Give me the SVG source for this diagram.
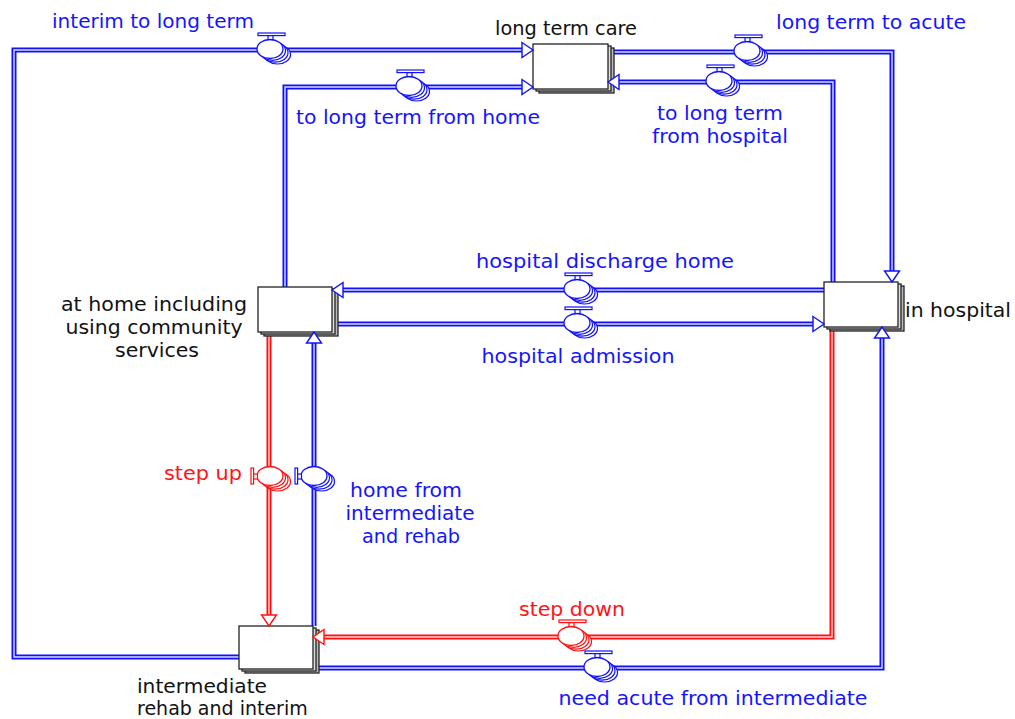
<svg xmlns="http://www.w3.org/2000/svg" width="1015" height="719" viewBox="0 0 1015 719">
<style>
text{font-family:"DejaVu Sans",Verdana,sans-serif;font-size:19px}
.b{fill:#1414ff}
.r{fill:#ff1414}
.k{fill:#111}
.po{fill:none;stroke-width:5;stroke-linejoin:miter}
.pi{fill:none;stroke-width:1.4;stroke-linejoin:miter}
.bo{stroke:#1010ff}
.bi{stroke:#d8dcff}
.ro{stroke:#ff1010}
.ri{stroke:#ffd6d6}
.st{stroke:#222;stroke-width:1.3}
</style>
<defs>
<g id="vb">
<ellipse cx="7.5" cy="5.5" rx="13" ry="9.5" fill="#fff" stroke="currentColor" stroke-width="1.2"/>
<ellipse cx="5" cy="3.7" rx="13" ry="9.5" fill="#fff" stroke="currentColor" stroke-width="1.2"/>
<ellipse cx="2.5" cy="1.8" rx="13" ry="9.5" fill="#fff" stroke="currentColor" stroke-width="1.2"/>
<ellipse cx="0" cy="0" rx="13" ry="9.5" fill="#fff" stroke="currentColor" stroke-width="1.3"/>
</g>
<g id="valveH">
<use href="#vb"/>
<rect x="-2" y="-13.5" width="5" height="4" fill="#fff" stroke="currentColor" stroke-width="1.2"/>
<rect x="-12" y="-16" width="27" height="2.6" fill="#fff" stroke="currentColor" stroke-width="1.2"/>
</g>
<g id="valveV">
<use href="#vb"/>
<rect x="-16.5" y="-2" width="4" height="5" fill="#fff" stroke="currentColor" stroke-width="1.2"/>
<rect x="-19" y="-8" width="2.6" height="16" fill="#fff" stroke="currentColor" stroke-width="1.2"/>
</g>
<path id="arr" d="M0,0 L-11,-7.5 L-11,7.5 Z" fill="#fff" stroke="currentColor" stroke-width="1.4"/>
</defs>

<g id="connectors">
<path class="po bo" d="M239,657 H14 V50 H522"/>
<path class="pi bi" d="M239,657 H14 V50 H522"/>
<path class="po bo" d="M285,287 V87 H522"/>
<path class="pi bi" d="M285,287 V87 H522"/>
<path class="po bo" d="M608,52 H892 V271"/>
<path class="pi bi" d="M608,52 H892 V271"/>
<path class="po bo" d="M833,282 V82 H619"/>
<path class="pi bi" d="M833,282 V82 H619"/>
<path class="po bo" d="M824,290 H343"/>
<path class="pi bi" d="M824,290 H343"/>
<path class="po bo" d="M332,324 H813"/>
<path class="pi bi" d="M332,324 H813"/>
<path class="po ro" d="M269,332 V615"/>
<path class="pi ri" d="M269,332 V615"/>
<path class="po bo" d="M314,626 V343"/>
<path class="pi bi" d="M314,626 V343"/>
<path class="po ro" d="M832,327 V637 H324"/>
<path class="pi ri" d="M832,327 V637 H324"/>
<path class="po bo" d="M313,668 H882 V338"/>
<path class="pi bi" d="M313,668 H882 V338"/>
</g>

<g id="stock-long-term-care">
<rect x="539" y="48" width="75" height="45" fill="#bbb" class="st"/>
<rect x="536" y="46" width="75" height="45" fill="#ddd" class="st"/>
<rect x="533" y="44" width="75" height="45" fill="#fff" class="st"/>
<text x="566" y="35" text-anchor="middle" class="k" textLength="142" lengthAdjust="spacingAndGlyphs">long term care</text>
</g>
<g id="stock-home">
<rect x="264" y="291" width="74" height="45" fill="#bbb" class="st"/>
<rect x="261" y="289" width="74" height="45" fill="#ddd" class="st"/>
<rect x="258" y="287" width="74" height="45" fill="#fff" class="st"/>
<text x="154" y="311" text-anchor="middle" class="k" textLength="186" lengthAdjust="spacingAndGlyphs">at home including</text>
<text x="154" y="334" text-anchor="middle" class="k" textLength="177" lengthAdjust="spacingAndGlyphs">using community</text>
<text x="157" y="357" text-anchor="middle" class="k" textLength="84" lengthAdjust="spacingAndGlyphs">services</text>
</g>
<g id="stock-hospital">
<rect x="830" y="286" width="74" height="45" fill="#bbb" class="st"/>
<rect x="827" y="284" width="74" height="45" fill="#ddd" class="st"/>
<rect x="824" y="282" width="74" height="45" fill="#fff" class="st"/>
<text x="905" y="317" class="k" textLength="106" lengthAdjust="spacingAndGlyphs">in hospital</text>
</g>
<g id="stock-intermediate">
<rect x="245" y="630" width="74" height="43" fill="#bbb" class="st"/>
<rect x="242" y="628" width="74" height="43" fill="#ddd" class="st"/>
<rect x="239" y="626" width="74" height="43" fill="#fff" class="st"/>
<text x="137" y="693" class="k" textLength="130" lengthAdjust="spacingAndGlyphs">intermediate</text>
<text x="137" y="715" class="k">rehab and interim</text>
</g>

<g id="arrows">
<use href="#arr" x="533" y="50" color="#1010ff"/>
<use href="#arr" x="533" y="87" color="#1010ff"/>
<use href="#arr" transform="translate(892,282) rotate(90)" color="#1010ff"/>
<use href="#arr" transform="translate(608,82) rotate(180)" color="#1010ff"/>
<use href="#arr" transform="translate(332,290) rotate(180)" color="#1010ff"/>
<use href="#arr" x="824" y="324" color="#1010ff"/>
<use href="#arr" transform="translate(269,626) rotate(90)" color="#ff1010"/>
<use href="#arr" transform="translate(314,332) rotate(-90)" color="#1010ff"/>
<use href="#arr" transform="translate(313,637) rotate(180)" color="#ff1010"/>
<use href="#arr" transform="translate(882,327) rotate(-90)" color="#1010ff"/>
</g>

<g id="flow-interim-to-long-term">
<use href="#valveH" x="270" y="49" color="#1010ff"/>
<text x="153" y="28" text-anchor="middle" class="b" textLength="202" lengthAdjust="spacingAndGlyphs">interim to long term</text>
</g>
<g id="flow-to-long-term-from-home">
<use href="#valveH" x="409" y="86" color="#1010ff"/>
<text x="418" y="124" text-anchor="middle" class="b" textLength="244" lengthAdjust="spacingAndGlyphs">to long term from home</text>
</g>
<g id="flow-long-term-to-acute">
<use href="#valveH" x="747" y="51" color="#1010ff"/>
<text x="871" y="29" text-anchor="middle" class="b" textLength="190" lengthAdjust="spacingAndGlyphs">long term to acute</text>
</g>
<g id="flow-to-long-term-from-hospital">
<use href="#valveH" x="719" y="81" color="#1010ff"/>
<text x="720" y="120" text-anchor="middle" class="b" textLength="126" lengthAdjust="spacingAndGlyphs">to long term</text>
<text x="720" y="143" text-anchor="middle" class="b" textLength="136" lengthAdjust="spacingAndGlyphs">from hospital</text>
</g>
<g id="flow-hospital-discharge-home">
<use href="#valveH" x="577" y="289" color="#1010ff"/>
<text x="605" y="268" text-anchor="middle" class="b" textLength="258" lengthAdjust="spacingAndGlyphs">hospital discharge home</text>
</g>
<g id="flow-hospital-admission">
<use href="#valveH" x="577" y="323" color="#1010ff"/>
<text x="578" y="363" text-anchor="middle" class="b" textLength="193" lengthAdjust="spacingAndGlyphs">hospital admission</text>
</g>
<g id="flow-step-up">
<use href="#valveV" x="270" y="476" color="#ff1010"/>
<text x="242" y="480" text-anchor="end" class="r" textLength="78" lengthAdjust="spacingAndGlyphs">step up</text>
</g>
<g id="flow-home-from-intermediate">
<use href="#valveV" x="314" y="476" color="#1010ff"/>
<text x="406" y="497" text-anchor="middle" class="b" textLength="112" lengthAdjust="spacingAndGlyphs">home from</text>
<text x="410" y="520" text-anchor="middle" class="b" textLength="129" lengthAdjust="spacingAndGlyphs">intermediate</text>
<text x="411" y="543" text-anchor="middle" class="b" textLength="98" lengthAdjust="spacingAndGlyphs">and rehab</text>
</g>
<g id="flow-step-down">
<use href="#valveH" x="571" y="636" color="#ff1010"/>
<text x="572" y="616" text-anchor="middle" class="r" textLength="106" lengthAdjust="spacingAndGlyphs">step down</text>
</g>
<g id="flow-need-acute-from-intermediate">
<use href="#valveH" x="597" y="667" color="#1010ff"/>
<text x="713" y="705" text-anchor="middle" class="b" textLength="309" lengthAdjust="spacingAndGlyphs">need acute from intermediate</text>
</g>
</svg>
